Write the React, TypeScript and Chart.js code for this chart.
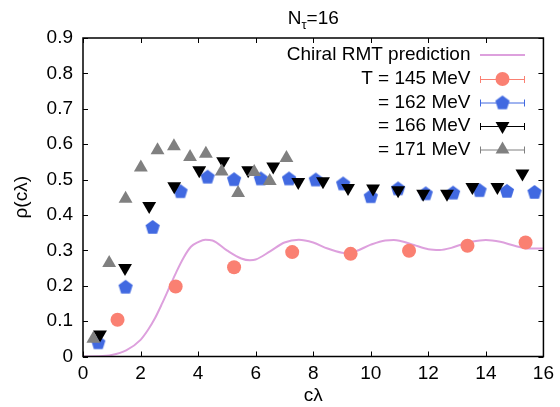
import { useEffect, useRef } from "react";
import { Chart, registerables } from "chart.js";

Chart.register(...registerables);

// ---------- data ----------
const xTickValues = [0, 2, 4, 6, 8, 10, 12, 14, 16];
const xTickLabels = ["0", "2", "4", "6", "8", "10", "12", "14", "16"];
const yTickValues = [0, 0.1, 0.2, 0.3, 0.4, 0.5, 0.6, 0.7, 0.8, 0.9];
const yTickLabels = ["0", "0.1", "0.2", "0.3", "0.4", "0.5", "0.6", "0.7", "0.8", "0.9"];

const rmtX = [0, 0.5, 1.0, 1.5, 2.0, 2.25, 2.5, 2.75, 3.0, 3.25, 3.5, 3.75, 4.0, 4.25, 4.5, 5.0, 5.5, 5.8, 6.0, 6.5, 7.0, 7.5, 8.0, 8.5, 9.0, 9.2, 9.5, 10.0, 10.5, 10.8, 11.0, 11.5, 12.0, 12.4, 12.8, 13.2, 13.5, 14.0, 14.5, 15.0, 15.5, 16.0];
const rmtY = [0, 0.0005, 0.004, 0.017, 0.047, 0.074, 0.108, 0.15, 0.195, 0.24, 0.28, 0.31, 0.323, 0.330, 0.328, 0.300, 0.277, 0.272, 0.274, 0.297, 0.322, 0.330, 0.322, 0.305, 0.293, 0.292, 0.298, 0.316, 0.328, 0.329, 0.327, 0.315, 0.303, 0.301, 0.307, 0.318, 0.324, 0.329, 0.324, 0.313, 0.305, 0.305];

const t145X = [1.2, 3.22, 5.25, 7.27, 9.3, 11.33, 13.36, 15.38];
const t145Y = [0.104, 0.198, 0.252, 0.295, 0.29, 0.299, 0.313, 0.322];

const t162X = [0.53, 1.48, 2.42, 3.39, 4.33, 5.25, 6.18, 7.16, 8.09, 9.04, 10.0, 10.95, 11.91, 12.86, 13.78, 14.73, 15.69];
const t162Y = [0.04, 0.197, 0.366, 0.467, 0.508, 0.501, 0.503, 0.503, 0.5, 0.489, 0.453, 0.475, 0.461, 0.463, 0.47, 0.468, 0.465];

const t166X = [0.59, 1.46, 2.3, 3.17, 4.04, 4.87, 5.74, 6.61, 7.48, 8.34, 9.21, 10.08, 10.95, 11.82, 12.65, 13.53, 14.4, 15.27];
const t166Y = [0.062, 0.25, 0.425, 0.481, 0.526, 0.552, 0.526, 0.537, 0.493, 0.495, 0.476, 0.475, 0.47, 0.46, 0.46, 0.479, 0.479, 0.517];

const t171X = [0.36, 0.91, 1.48, 2.01, 2.59, 3.16, 3.72, 4.27, 4.82, 5.39, 5.95, 6.49, 7.07];
const t171Y = [0.05, 0.264, 0.446, 0.534, 0.583, 0.594, 0.564, 0.573, 0.523, 0.462, 0.521, 0.496, 0.561];

const legendLabels = ["Chiral RMT prediction", "T = 145 MeV", "= 162 MeV", "= 166 MeV", "= 171 MeV"];
const titleMain = "N";
const titleSub = "τ";
const titleRest = "=16";
const xTitle = "cλ";
const yTitle = "ρ(cλ)";

// ---------- styles ----------
const FONT = '"Liberation Sans", Arial, Helvetica, sans-serif';
const C_RMT = "#dda0dd";
const C_145 = "#fa8072";
const C_162 = "#4169e1";
const C_166 = "#000000";
const C_171 = "#808080";

function zip(xs: number[], ys: number[]) {
  return xs.map((x, i) => ({ x, y: ys[i] }));
}

function makePentagon(color: string, R: number) {
  const size = 18;
  const c = document.createElement("canvas");
  c.width = size;
  c.height = size;
  const ctx = c.getContext("2d")!;
  ctx.fillStyle = color;
  ctx.beginPath();
  for (let i = 0; i < 5; i++) {
    const a = -Math.PI / 2 + (i * 2 * Math.PI) / 5;
    const px = size / 2 + R * Math.cos(a);
    const py = size / 2 + 0.6 + R * Math.sin(a);
    if (i === 0) ctx.moveTo(px, py);
    else ctx.lineTo(px, py);
  }
  ctx.closePath();
  ctx.fill();
  return c;
}

function drawTri(ctx: CanvasRenderingContext2D, x: number, y: number, r: number, down: boolean, color: string) {
  ctx.save();
  ctx.fillStyle = color;
  ctx.beginPath();
  let rad = down ? Math.PI : 0;
  for (let i = 0; i < 3; i++) {
    const px = x + Math.sin(rad) * r;
    const py = y - Math.cos(rad) * r;
    if (i === 0) ctx.moveTo(px, py);
    else ctx.lineTo(px, py);
    rad += (2 * Math.PI) / 3;
  }
  ctx.closePath();
  ctx.fill();
  ctx.restore();
}

export default function App() {
  const ref = useRef<HTMLCanvasElement>(null);

  useEffect(() => {
    const canvas = ref.current;
    if (!canvas) return;
    const pent = makePentagon(C_162, 7.5);

    const framePlugin = {
      id: "frameTicks",
      afterDraw(chart: any) {
        const { ctx, chartArea } = chart;
        const xs = chart.scales.x;
        const ys = chart.scales.y;
        const { left, right, top, bottom } = chartArea;
        ctx.save();
        ctx.strokeStyle = "#000";
        ctx.lineWidth = 1.5;
        ctx.strokeRect(left, top, right - left, bottom - top);
        ctx.lineWidth = 1;
        const tl = 5;
        ctx.beginPath();
        xTickValues.forEach((v) => {
          const px = Math.round(xs.getPixelForValue(v)) + 0.5;
          ctx.moveTo(px, bottom);
          ctx.lineTo(px, bottom - tl);
          ctx.moveTo(px, top);
          ctx.lineTo(px, top + tl);
        });
        yTickValues.forEach((v) => {
          const py = Math.round(ys.getPixelForValue(v)) + 0.5;
          ctx.moveTo(left, py);
          ctx.lineTo(left + tl, py);
          ctx.moveTo(right, py);
          ctx.lineTo(right - tl, py);
        });
        ctx.stroke();

        // title
        ctx.fillStyle = "#000";
        ctx.textBaseline = "alphabetic";
        ctx.font = `19px ${FONT}`;
        const wMain = ctx.measureText(titleMain).width;
        const wRest = ctx.measureText(titleRest).width;
        ctx.font = `13px ${FONT}`;
        const wSub = ctx.measureText(titleSub).width;
        const cx = (left + right) / 2;
        let tx = cx - (wMain + wSub + wRest) / 2;
        ctx.font = `19px ${FONT}`;
        ctx.textAlign = "left";
        ctx.fillText(titleMain, tx, 24);
        tx += wMain;
        ctx.font = `13px ${FONT}`;
        ctx.fillText(titleSub, tx, 29);
        tx += wSub;
        ctx.font = `19px ${FONT}`;
        ctx.fillText(titleRest, tx, 24);

        // legend
        const rowsY = [55, 79, 102.5, 126, 149.5];
        const textRight = 470.5;
        const l0 = 480;
        const l1 = 525;
        const mid = (l0 + l1) / 2;
        const colors = [C_RMT, C_145, C_162, C_166, C_171];
        ctx.textAlign = "right";
        ctx.textBaseline = "middle";
        rowsY.forEach((ry, i) => {
          ctx.fillStyle = "#000";
          ctx.font = `19px ${FONT}`;
          ctx.fillText(legendLabels[i], textRight, ry);
          const col = colors[i];
          ctx.strokeStyle = col;
          if (i === 0) {
            ctx.lineWidth = 2;
            ctx.beginPath();
            ctx.moveTo(l0, ry);
            ctx.lineTo(l1, ry);
            ctx.stroke();
            return;
          }
          ctx.lineWidth = 1;
          ctx.beginPath();
          ctx.moveTo(l0, ry + 0.5);
          ctx.lineTo(l1, ry + 0.5);
          ctx.moveTo(l0 + 0.5, ry - 3);
          ctx.lineTo(l0 + 0.5, ry + 4);
          ctx.moveTo(l1 - 0.5, ry - 3);
          ctx.lineTo(l1 - 0.5, ry + 4);
          ctx.stroke();
          if (i === 1) {
            ctx.fillStyle = col;
            ctx.beginPath();
            ctx.arc(mid, ry, 7, 0, Math.PI * 2);
            ctx.fill();
          } else if (i === 2) {
            ctx.drawImage(pent, mid - 9, ry - 9);
          } else if (i === 3) {
            drawTri(ctx, mid, ry, 8, true, col);
          } else {
            drawTri(ctx, mid, ry, 8, false, col);
          }
        });
        ctx.restore();
      },
    };

    const tickFont = { family: FONT, size: 19 };

    const chart = new Chart(canvas, {
      type: "scatter",
      data: {
        datasets: [
          {
            label: legendLabels[0],
            data: zip(rmtX, rmtY),
            showLine: true,
            borderColor: C_RMT,
            borderWidth: 2,
            pointRadius: 0,
            cubicInterpolationMode: "monotone",
            order: 5,
          },
          {
            label: legendLabels[1],
            data: zip(t145X, t145Y),
            pointStyle: "circle",
            pointRadius: 7,
            backgroundColor: C_145,
            borderColor: C_145,
            borderWidth: 0,
            order: 4,
          },
          {
            label: legendLabels[2],
            data: zip(t162X, t162Y),
            pointStyle: pent,
            pointRadius: 7,
            backgroundColor: C_162,
            borderColor: C_162,
            borderWidth: 0,
            order: 3,
          },
          {
            label: legendLabels[3],
            data: zip(t166X, t166Y),
            pointStyle: "triangle",
            rotation: 180,
            pointRadius: 8,
            backgroundColor: C_166,
            borderColor: C_166,
            borderWidth: 0,
            order: 2,
          },
          {
            label: legendLabels[4],
            data: zip(t171X, t171Y),
            pointStyle: "triangle",
            pointRadius: 8,
            backgroundColor: C_171,
            borderColor: C_171,
            borderWidth: 0,
            order: 1,
          },
        ],
      } as any,
      options: {
        animation: false,
        responsive: false,
        maintainAspectRatio: false,
        layout: { padding: { left: 0, right: 16.5, top: 38, bottom: 0 } },
        plugins: {
          legend: { display: false },
          title: { display: false },
          tooltip: { enabled: false },
        },
        scales: {
          x: {
            type: "linear",
            min: 0,
            max: 16,
            afterBuildTicks: (s: any) => {
              s.ticks = xTickValues.map((v) => ({ value: v }));
            },
            afterFit: (s: any) => {
              s.height = 50.5;
            },
            grid: { display: false, drawTicks: false },
            border: { display: false },
            ticks: {
              callback: (_v: any, i: number) => xTickLabels[i],
              font: tickFont,
              color: "#000",
              padding: 6,
              maxRotation: 0,
              autoSkip: false,
            },
            title: { display: true, text: xTitle, font: tickFont, color: "#000", padding: 0 },
          },
          y: {
            type: "linear",
            min: 0,
            max: 0.9,
            afterBuildTicks: (s: any) => {
              s.ticks = yTickValues.map((v) => ({ value: v }));
            },
            afterFit: (s: any) => {
              s.width = 83;
            },
            grid: { display: false, drawTicks: false },
            border: { display: false },
            ticks: {
              callback: (_v: any, i: number) => yTickLabels[i],
              font: tickFont,
              color: "#000",
              padding: 10,
              autoSkip: false,
            },
            title: { display: true, text: yTitle, font: tickFont, color: "#000", padding: { top: 10, bottom: 0 } },
          },
        },
      } as any,
      plugins: [framePlugin],
    });

    return () => chart.destroy();
  }, []);

  return (
    <div style={{ position: "absolute", left: 0, top: 0, width: 560, height: 407, background: "#fff" }}>
      <canvas ref={ref} width={560} height={407} style={{ display: "block" }} />
    </div>
  );
}
